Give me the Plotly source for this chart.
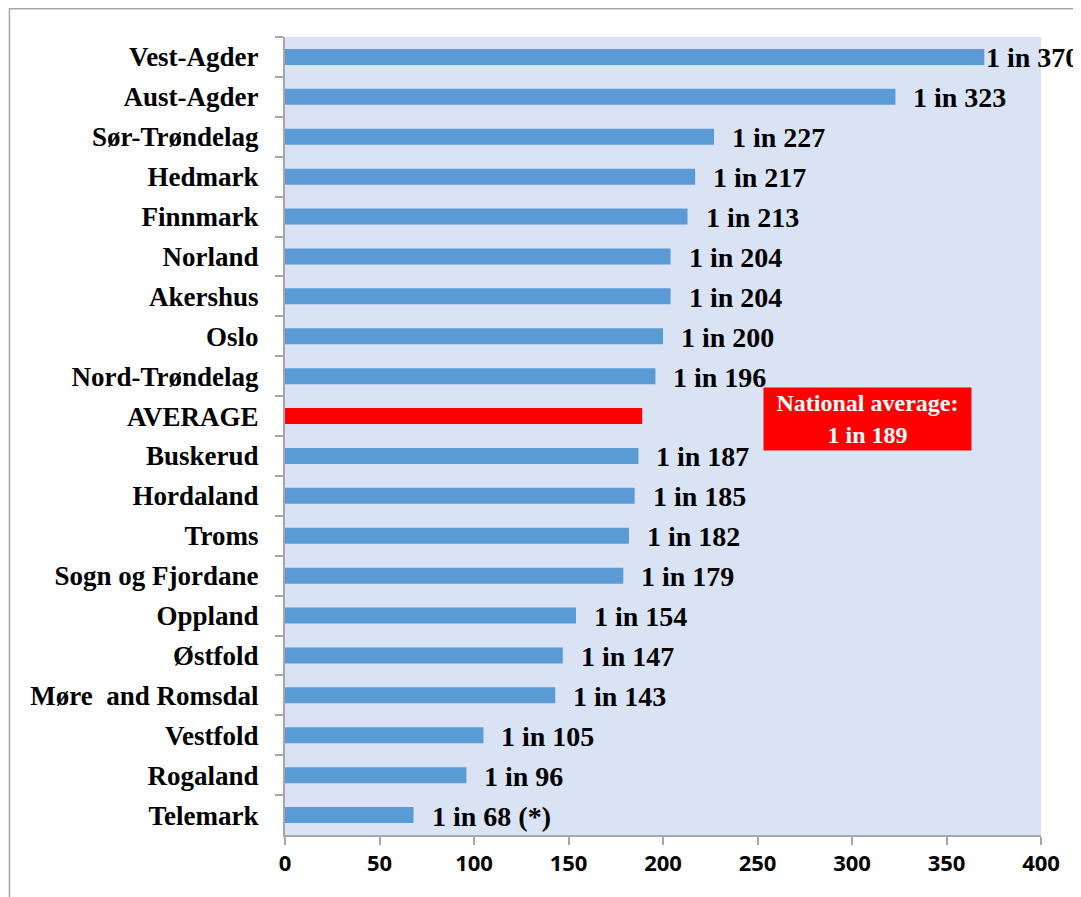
import plotly.graph_objects as go

categories = ["Vest-Agder", "Aust-Agder", "Sør-Trøndelag", "Hedmark", "Finnmark", "Norland",
              "Akershus", "Oslo", "Nord-Trøndelag", "AVERAGE", "Buskerud", "Hordaland", "Troms",
              "Sogn og Fjordane", "Oppland", "Østfold", "Møre  and Romsdal", "Vestfold",
              "Rogaland", "Telemark"]
values = [370, 323, 227, 217, 213, 204, 204, 200, 196, 189, 187, 185, 182, 179, 154, 147, 143, 105, 96, 68]
labels = ["1 in 370", "1 in 323", "1 in 227", "1 in 217", "1 in 213", "1 in 204", "1 in 204",
          "1 in 200", "1 in 196", "", "1 in 187", "1 in 185", "1 in 182", "1 in 179", "1 in 154",
          "1 in 147", "1 in 143", "1 in 105", "1 in 96", "1 in 68 (*)"]
avg_label = "National average:<br>1 in 189"
x_ticks = [0, 50, 100, 150, 200, 250, 300, 350, 400]

BLUE = "#5B9BD5"
RED = "#FF0000"
colors = [RED if c == "AVERAGE" else BLUE for c in categories]

fig = go.Figure()
fig.add_trace(go.Bar(
    y=categories, x=values, orientation="h",
    marker=dict(color=colors, line=dict(width=0)),
    hoverinfo="skip",
))

serif = "Liberation Serif"
for c, v, t in zip(categories, values, labels):
    if not t:
        continue
    fig.add_annotation(
        x=v, y=c, text=t, showarrow=False, xanchor="left", yanchor="middle",
        xshift=0 if c == "Vest-Agder" else 16, yshift=-1,
        font=dict(family=serif, size=28, color="black", weight="bold"),
    )

fig.add_annotation(
    x=250, y="AVERAGE", text=avg_label, showarrow=False, xanchor="left", yanchor="middle",
    xshift=5, yshift=-3,
    font=dict(family=serif, size=24, color="white", weight="bold"),
    bgcolor=RED, width=205, height=60, align="center",
)

# outer frame
fig.add_shape(type="rect", xref="paper", yref="paper", x0=-0.3645, x1=1.2, y0=-0.2, y1=1.0354,
              line=dict(color="#A6A6A6", width=1.5), fillcolor="rgba(0,0,0,0)", layer="below")

fig.update_layout(
    width=1081, height=897,
    margin=dict(l=277, r=48, t=29, b=70),
    paper_bgcolor="white",
    plot_bgcolor="#DAE3F3",
    bargap=0.6,
    showlegend=False,
    xaxis=dict(
        range=[0, 400], tickvals=x_ticks, showgrid=False, zeroline=False,
        showline=True, linecolor="#A6A6A6", linewidth=2,
        ticks="outside", ticklen=8, tickcolor="#A6A6A6", tickwidth=1.5,
        tickfont=dict(family="Open Sans", size=22, color="black", weight="bold"),
        ticklabelstandoff=0,
    ),
    yaxis=dict(
        autorange="reversed", showgrid=False, zeroline=False,
        showline=True, linecolor="#A6A6A6", linewidth=2,
        ticks="outside", ticklen=8, tickcolor="#A6A6A6", tickwidth=1.5,
        tickson="boundaries",
        tickfont=dict(family=serif, size=27, color="black", weight="bold"),
        ticklabelstandoff=19,
    ),
)

fig.write_html("out.html")
